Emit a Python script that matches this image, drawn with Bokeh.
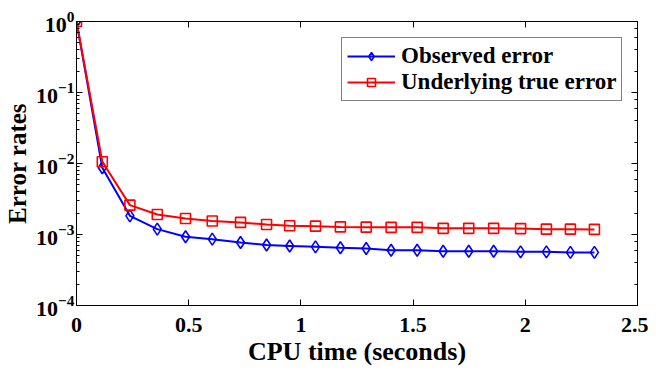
from bokeh.plotting import figure
from bokeh.models import (Range1d, LinearAxis, LogAxis, Title, Legend, LegendItem, FixedTicker,
                          CustomJSTickFormatter)
from bokeh.embed import file_html
from bokeh.resources import INLINE

# data
cpu_time = [0.0, 0.115, 0.238, 0.360, 0.486, 0.605, 0.731, 0.847, 0.950, 1.065, 1.176,
            1.291, 1.402, 1.518, 1.634, 1.748, 1.859, 1.979, 2.094, 2.201, 2.308]
observed_error = [1.0, 8.7e-3, 1.83e-3, 1.19e-3, 9.3e-4, 8.6e-4, 7.7e-4, 7.1e-4, 6.9e-4, 6.7e-4, 6.5e-4,
                  6.35e-4, 6.0e-4, 6.0e-4, 5.8e-4, 5.8e-4, 5.8e-4, 5.7e-4, 5.7e-4, 5.6e-4, 5.6e-4]
true_error = [1.0, 1.06e-2, 2.59e-3, 1.91e-3, 1.68e-3, 1.55e-3, 1.48e-3, 1.38e-3, 1.33e-3, 1.31e-3, 1.28e-3,
              1.27e-3, 1.26e-3, 1.26e-3, 1.22e-3, 1.22e-3, 1.22e-3, 1.21e-3, 1.19e-3, 1.19e-3, 1.18e-3]
x_ticks = [0, 0.5, 1, 1.5, 2, 2.5]

FONT = "Liberation Serif"

p = figure(width=648, height=368, output_backend="svg", toolbar_location=None,
           y_axis_type="log", x_range=Range1d(0, 2.5), y_range=Range1d(1e-4, 1),
           min_border_left=76, min_border_right=11, min_border_top=21, min_border_bottom=63,
           background_fill_color="white", border_fill_color="white")
p.grid.visible = False
p.outline_line_color = "black"
p.outline_line_width = 1

# lines and markers
bl = p.line(cpu_time, observed_error, line_color="#0000ff", line_width=2)
bm = p.scatter(cpu_time, observed_error, marker="diamond", size=12, line_color="#0000ff",
               line_width=1.6, fill_color=None)
rl = p.line(cpu_time, true_error, line_color="#ff0000", line_width=2)
rm = p.scatter(cpu_time, true_error, marker="square", size=10, line_color="#ff0000",
               line_width=1.6, fill_color=None)

# axes styling
xa = p.xaxis[0]
xa.ticker = FixedTicker(ticks=x_ticks)
xa.minor_tick_line_color = None
ya = p.yaxis[0]
for ax in (xa, ya):
    ax.major_tick_in = 6
    ax.major_tick_out = 0
    ax.minor_tick_in = 3
    ax.minor_tick_out = 0
    ax.axis_line_color = "black"
    ax.major_tick_line_color = "black"
    ax.major_label_text_font = FONT
    ax.major_label_text_font_style = "bold"
    ax.major_label_text_color = "black"
    ax.major_label_text_font_size = "22px"
xa.major_label_standoff = 12
ya.major_label_standoff = 2
ya.axis_label = "Error rates"
ya.axis_label_text_font = FONT
ya.axis_label_text_font_style = "bold"
ya.axis_label_text_font_size = "25px"
ya.axis_label_text_color = "black"
ya.axis_label_standoff = 2

# mirrored axes (box with inward ticks)
top = LinearAxis(ticker=FixedTicker(ticks=x_ticks), formatter=CustomJSTickFormatter(code="return '';"),
                 major_label_standoff=0, major_tick_in=6, major_tick_out=0, minor_tick_line_color=None)
right = LogAxis(formatter=CustomJSTickFormatter(code="return '';"), major_label_standoff=0,
                major_tick_in=6, major_tick_out=0, minor_tick_in=3, minor_tick_out=0)
p.add_layout(top, "above")
p.add_layout(right, "right")

# x axis label
p.add_layout(Title(text="CPU time (seconds)", text_font=FONT, text_font_style="bold",
                   text_font_size="26px", text_color="black", align="center", offset=-20,
                   standoff=0), "below")

legend = Legend(items=[LegendItem(label="Observed error", renderers=[bl, bm]),
                       LegendItem(label="Underlying true error", renderers=[rl, rm])],
                location=(265, 204), label_text_font=FONT, label_text_font_style="bold",
                label_text_font_size="23px", label_text_color="black",
                glyph_width=48, glyph_height=20, label_height=23, label_standoff=6,
                spacing=0, padding=5, margin=0,
                border_line_color="black", border_line_width=1, background_fill_alpha=1)
p.add_layout(legend)

open("out.html", "w").write(file_html(p, INLINE))
